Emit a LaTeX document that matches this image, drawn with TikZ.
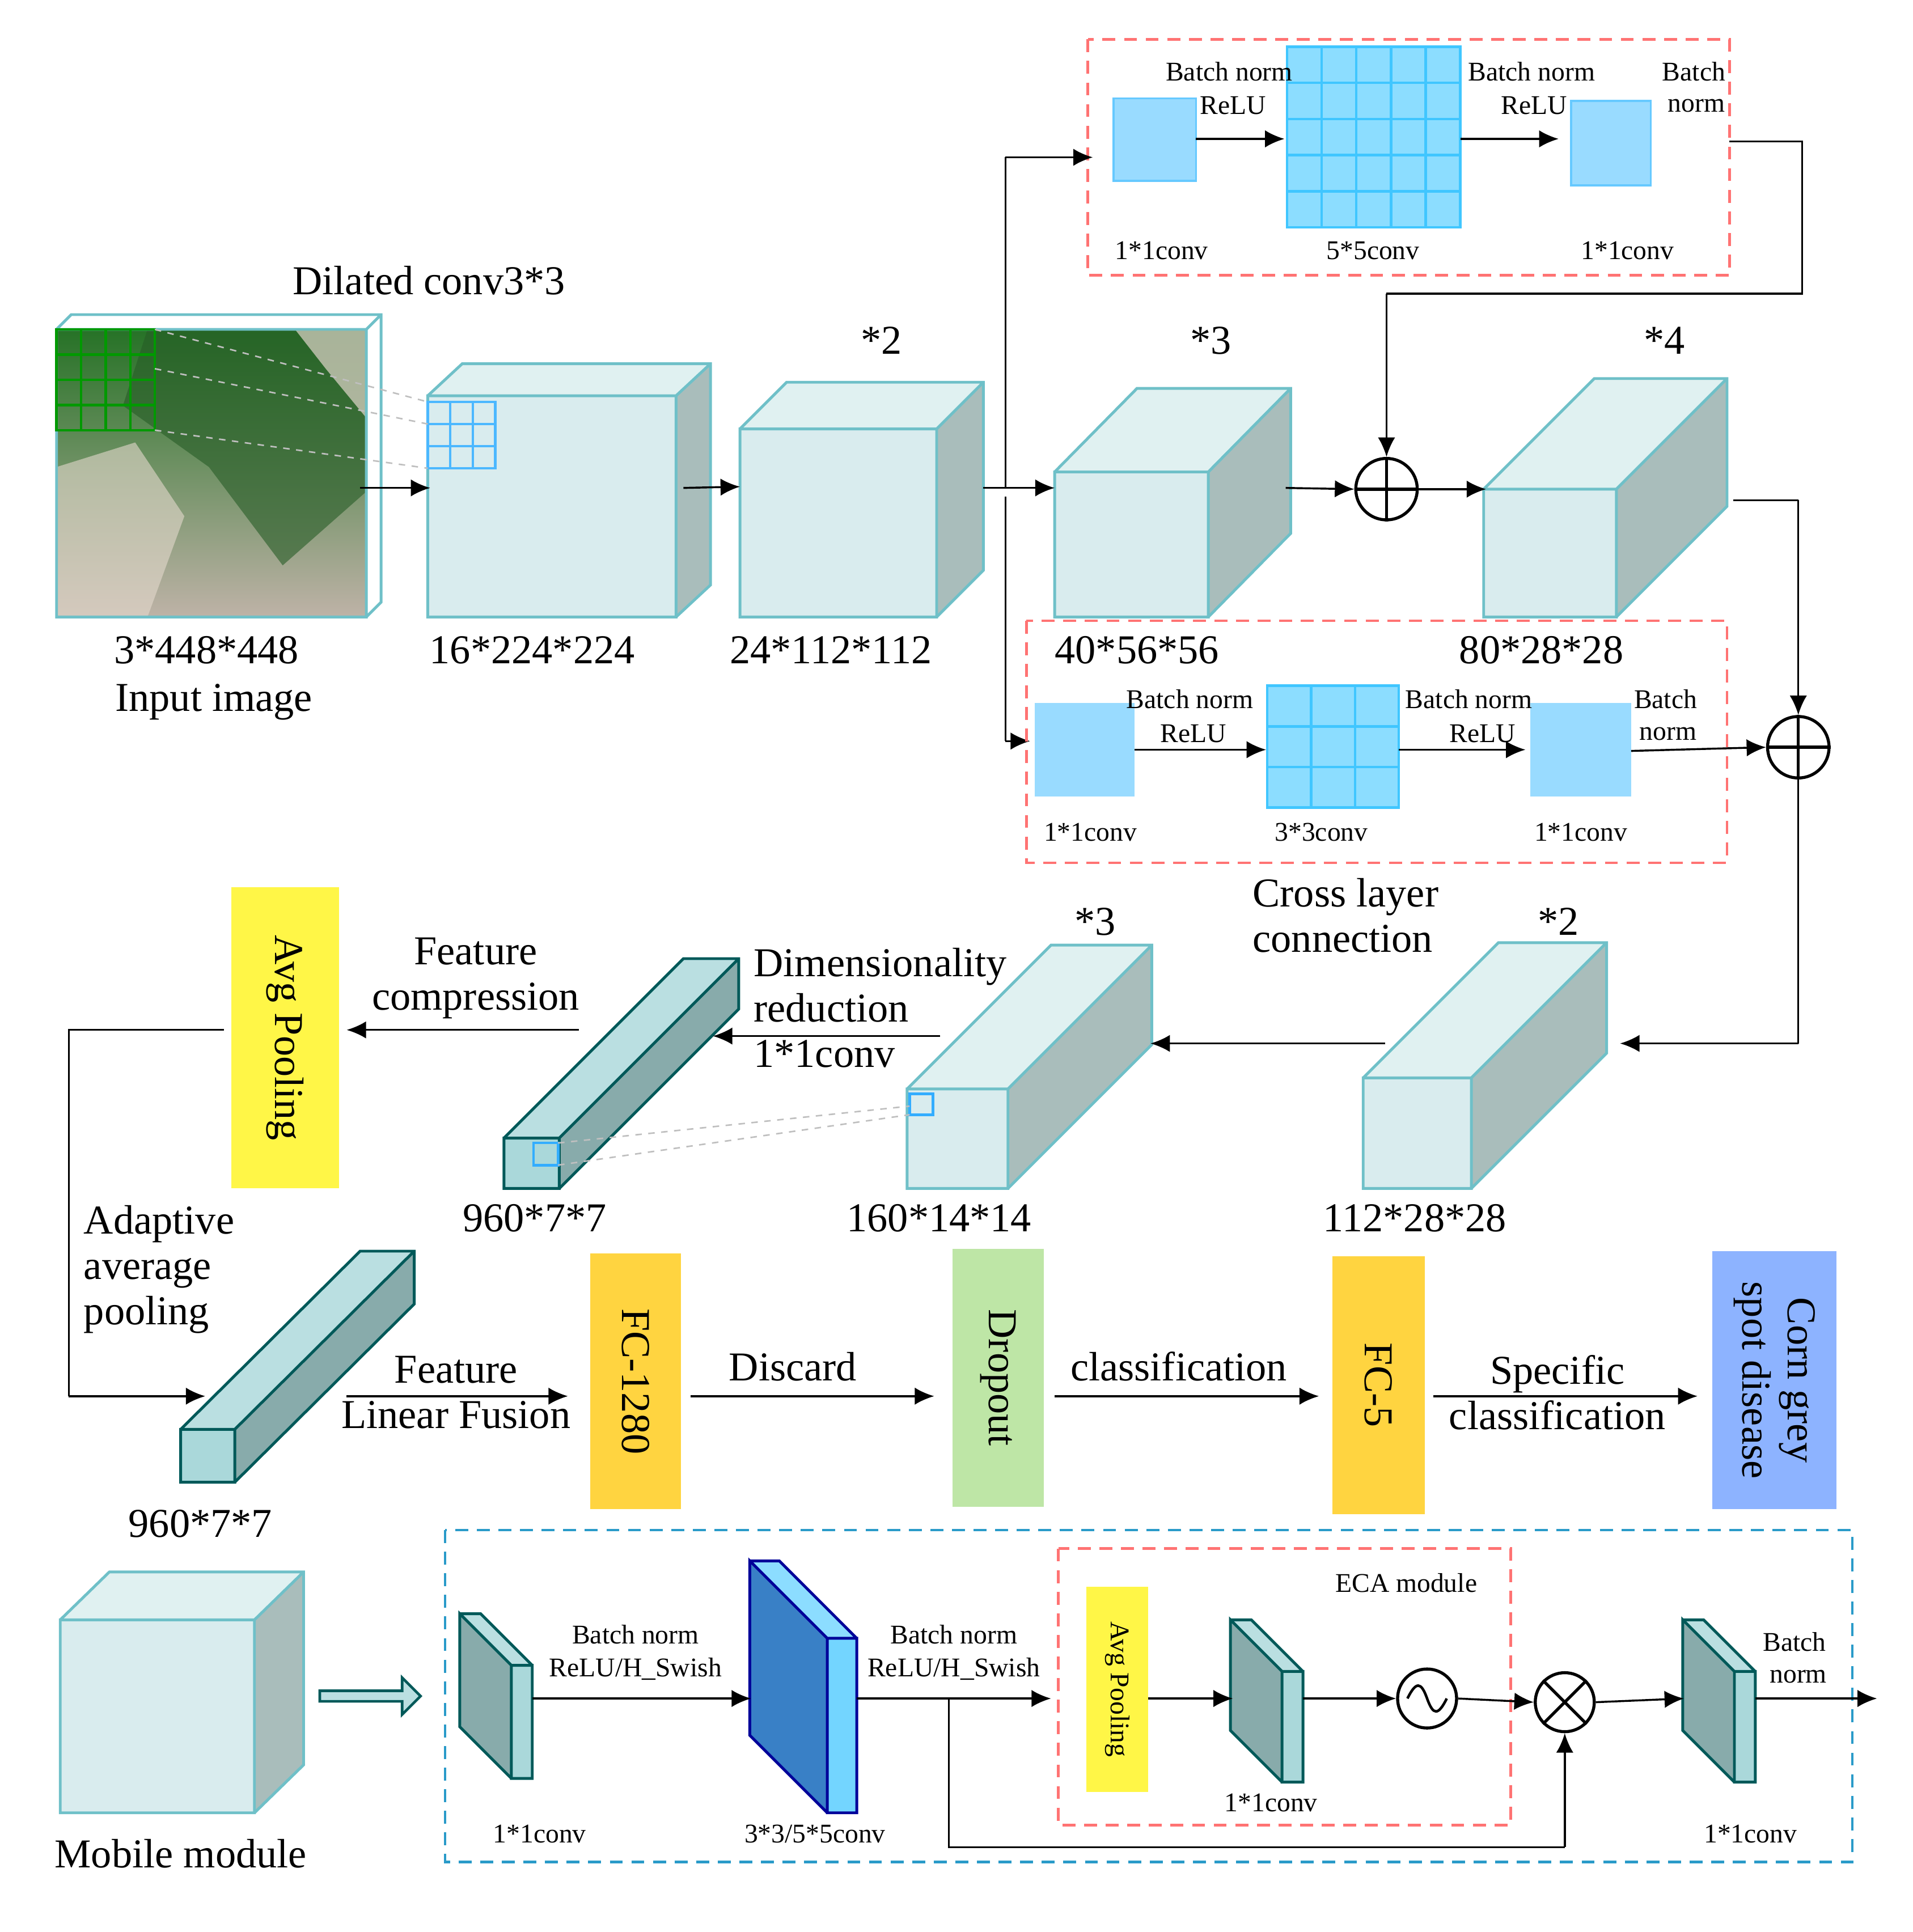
\documentclass[tikz,border=0pt]{standalone}
\usepackage{fontspec}
\setmainfont{Liberation Serif}
\usetikzlibrary{arrows.meta,shapes.arrows}
\definecolor{tl}{HTML}{6FC0C8}
\definecolor{afr}{HTML}{D9ECEE}
\definecolor{atp}{HTML}{E0F1F1}
\definecolor{asd}{HTML}{A9BDBB}
\definecolor{bfr}{HTML}{AAD8DA}
\definecolor{btp}{HTML}{BADFE1}
\definecolor{bsd}{HTML}{88ABAB}
\tikzset{
 afront/.style={fill=afr}, atop/.style={fill=atp}, aside/.style={fill=asd}, aline/.style={draw=tl,line width=1.3pt},
 bfront/.style={fill=bfr}, btop/.style={fill=btp}, bside/.style={fill=bsd}, bline/.style={draw=teal!70!black,line width=1.3pt},
 cfront/.style={fill=blue!30!cyan!55!white}, ctop/.style={fill=blue!30!cyan!45!white}, cside/.style={fill=blue!50!cyan!55!gray}, cline/.style={draw=blue!60!black,line width=1.3pt},
 big/.style={font=\fontsize{19}{21}\selectfont},
 sm/.style={font=\fontsize{12.5}{14}\selectfont},
 ar/.style={-{Latex[length=9pt,width=8pt]},line width=0.9pt},
 ln/.style={line width=0.9pt},
 sq/.style={fill=blue!35!cyan!40!white,draw=blue!35!cyan!60!white,line width=1pt},
 rbox/.style={draw=red!55!white,dashed,line width=1.2pt,dash pattern=on 6pt off 4pt},
 cbox/.style={draw=cyan!60!teal,dashed,line width=1.2pt,dash pattern=on 6pt off 4pt},
 gdash/.style={draw=gray!50,dashed,line width=0.7pt},
}
\newcommand{\cubo}[7]{%
 \fill[#7front] (#1,#2) rectangle ++(#3,#4);
 \fill[#7top] (#1,#2) -- ++(#5,-#6) -- ++(#3,0) -- ++(-#5,#6) -- cycle;
 \fill[#7side] (#1+#3,#2) -- ++(#5,-#6) -- ++(0,#4) -- ++(-#5,#6) -- cycle;
 \draw[#7line] (#1,#2) rectangle ++(#3,#4) (#1,#2) -- ++(#5,-#6) -- ++(#3,0) -- ++(0,#4) -- ++(-#5,#6) (#1+#3,#2) -- ++(#5,-#6);}
\newcommand{\slab}[6]{%
 \fill[#6front] (#1,#2) rectangle ++(#3,#4);
 \fill[#6side] (#1,#2) -- ++(-#5,-#5) -- ++(0,#4) -- ++(#5,#5) -- cycle;
 \fill[#6top] (#1,#2) -- ++(-#5,-#5) -- ++(#3,0) -- ++(#5,#5) -- cycle;
 \draw[#6line] (#1,#2) rectangle ++(#3,#4) (#1,#2) -- ++(-#5,-#5) -- ++(0,#4) -- ++(#5,#5) (#1,#2)++(-#5,-#5) -- ++(#3,0) -- ++(#5,#5);}
\newcommand{\grid}[8]{% x y w h nx ny linestyle fill
 \fill[#8] (#1,#2) rectangle ++(#3,#4);
 \foreach \i in {1,...,#5} {\draw[#7] (#1+#3*\i/#5-#3/#5,#2) -- ++(0,#4);}
 \foreach \j in {1,...,#6} {\draw[#7] (#1,#2+#4*\j/#6-#4/#6) -- ++(#3,0);}
 \draw[#7] (#1,#2) rectangle ++(#3,#4);}
\begin{document}
\begin{tikzpicture}[x=0.02cm,y=-0.02cm]
\useasboundingbox (0,0) rectangle (1556,1572);
% input image
\shade[top color=green!35!black!85!white, bottom color=brown!30!gray!60!white] (46,268) rectangle (298,502);
\fill[green!30!black!70!gray,opacity=0.6] (120,268) -- (298,268) -- (298,400) -- (230,460) -- (170,380) -- (100,330) -- cycle;
\fill[brown!20!white!85!gray,opacity=0.7] (240,268) -- (298,268) -- (298,340) -- (265,300) -- cycle;
\fill[gray!40!brown!30!white,opacity=0.6] (46,380) -- (110,360) -- (150,420) -- (120,502) -- (46,502) -- cycle;
\draw[tl,line width=1.3pt] (46,268) rectangle (298,502) (46,268) -- (58,256) -- (310,256) -- (310,490) -- (298,502) (298,268) -- (310,256);
\grid{46}{268}{80}{82}{4}{4}{draw=green!60!black,line width=1.2pt}{fill=none}
\node[big] (dil) at (349,228) {Dilated conv3*3};
\node[big] (l1) at (168,529) {3*448*448};
\node[big] (l1b) at (174,571) {Input image};
\cubo{348}{322}{202}{180}{28}{26}{a}
\grid{348}{327}{55}{54}{3}{3}{draw=blue!40!cyan!70!white,line width=1.2pt}{fill=none}
\draw[gdash] (126,268) -- (348,327) (126,350) -- (348,381) (126,300) -- (348,345);
\cubo{602}{349}{160}{153}{38}{38}{a}
\cubo{858}{384}{125}{118}{67}{68}{a}
\cubo{1207}{398}{108}{104}{90}{90}{a}
\node[big] at (433,529) {16*224*224};
\node[big] at (676,529) {24*112*112};
\node[big] at (717,277) {*2};
\node[big] at (985,277) {*3};
\node[big] at (1354,277) {*4};
\node[big] at (925,529) {40*56*56};
\node[big] at (1254,529) {80*28*28};
% top branch
\draw[rbox] (885,32) rectangle (1407,224);
\node[sq,minimum width=67*0.02cm,minimum height=67*0.02cm,inner sep=0] (t1) at (939.5,113.5) {};
\grid{1047}{38}{141}{147}{5}{5}{draw=blue!30!cyan!75!white,line width=1.2pt}{fill=blue!30!cyan!45!white}
\node[sq,minimum width=65*0.02cm,minimum height=69*0.02cm,inner sep=0] (t3) at (1310.5,116.5) {};
\draw[ar] (973,113) -- (1045,113);
\draw[ar] (1188,113) -- (1268,113);
\node[sm] at (1000,58) {Batch norm}; \node[sm] at (1003,86) {ReLU};
\node[sm] at (1246,58) {Batch norm}; \node[sm] at (1248,86) {ReLU};
\node[sm] at (1378,58) {Batch}; \node[sm] at (1380,86) {norm};
\node[sm] at (945,204) {1*1conv}; \node[sm] at (1117,204) {5*5conv}; \node[sm] at (1324,204) {1*1conv};
% main connections
\draw[ar] (293,397) -- (350,397);
\draw[ar] (556,397) -- (602,396);
\draw[ar] (800,397) -- (858,397);
\draw[ln] (818,397) -- (818,128); \draw[ar] (818,128) -- (889,128);
\draw[ln] (818,404) -- (818,603); \draw[ar] (818,603) -- (838,603);
\node[circle,draw,line width=1.4pt,minimum size=50*0.02cm,inner sep=0] (o1) at (1128,398) {};
\draw[line width=1.4pt] (o1.north) -- (o1.south) (o1.west) -- (o1.east);
\draw[ar] (1046,397) -- (o1.west);
\draw[ar] (o1.east) -- (1209,398);
\draw[ln] (1407,115) -- (1466,115) -- (1466,239) -- (1128,239); \draw[ar] (1128,239) -- (o1.north);
\node[circle,draw,line width=1.4pt,minimum size=50*0.02cm,inner sep=0] (o2) at (1463,608) {};
\draw[line width=1.4pt] (o2.north) -- (o2.south) (o2.west) -- (o2.east);
\draw[ln] (1410,407) -- (1463,407); \draw[ar] (1463,407) -- (o2.north);
% bottom branch
\draw[rbox] (835,505) rectangle (1405,702);
\node[sq,draw=none,minimum width=81*0.02cm,minimum height=76*0.02cm,inner sep=0] (b1) at (882.5,610) {};
\grid{1031}{558}{107}{99}{3}{3}{draw=blue!30!cyan!75!white,line width=1.2pt}{fill=blue!30!cyan!45!white}
\node[sq,draw=none,minimum width=82*0.02cm,minimum height=76*0.02cm,inner sep=0] (b3) at (1286,610) {};
\draw[ar] (923,610) -- (1030,610);
\draw[ar] (1138,610) -- (1241,610);
\draw[ar] (1327,611) -- (o2.west);
\node[sm] at (968,569) {Batch norm}; \node[sm] at (971,597) {ReLU};
\node[sm] at (1195,569) {Batch norm}; \node[sm] at (1206,597) {ReLU};
\node[sm] at (1355,569) {Batch}; \node[sm] at (1357,597) {norm};
\node[sm] at (887,677) {1*1conv}; \node[sm] at (1075,677) {3*3conv}; \node[sm] at (1286,677) {1*1conv};
\node[big,align=left,anchor=west] at (1013,745) {Cross layer\\connection};
\draw[ln] (o2.south) -- (1463,849); \draw[ar] (1463,849) -- (1318,849);
% middle row
\cubo{1109}{877}{88}{90}{110}{110}{a}
\cubo{738}{886}{82}{81}{117}{117}{a}
\cubo{410}{926}{45}{41}{146}{146}{b}
\draw[blue!40!cyan!80!white,line width=1.2pt] (740,890) rectangle (759,907) (434,930) rectangle (454,948);
\draw[gdash] (454,930) -- (740,900) (454,948) -- (740,907);
\draw[ar] (1127,849) -- (936,849);
\node[big] at (1268,750) {*2}; \node[big] at (891,750) {*3};
\draw[ar] (765,843) -- (580,843);
\node[big,align=left,anchor=west] at (607,820) {Dimensionality\\reduction\\1*1conv};
\node[fill=yellow!90!white!80!white,minimum width=88*0.02cm,minimum height=245*0.02cm] (avg) at (232,844.5) {};
\node[big,rotate=-90] at (avg.center) {Avg Pooling};
\node[big,align=center] at (387,796) {Feature\\compression};
\draw[ar] (471,838) -- (282,838);
\draw[ln] (182,838) -- (56,838) -- (56,1136); \draw[ar] (56,1136) -- (167,1136);
\node[big,align=left,anchor=west] at (62,1033) {Adaptive\\average\\pooling};
\node[big] at (435,991) {960*7*7}; \node[big] at (764,991) {160*14*14}; \node[big] at (1151,991) {112*28*28};
% lower row
\cubo{147}{1163}{44}{43}{146}{145}{b}
\node[big] at (163,1240) {960*7*7};
\node[big,align=center] at (371,1133) {Feature\\Linear Fusion};
\draw[ar] (282,1136) -- (462,1136);
\node[fill=orange!45!yellow!75!white,minimum width=74*0.02cm,minimum height=208*0.02cm] (fc1) at (517,1124) {};
\node[big,rotate=-90] at (fc1.center) {FC-1280};
\node[big] at (645,1112) {Discard};
\draw[ar] (562,1136) -- (760,1136);
\node[fill=green!45!olive!35!white,minimum width=74*0.02cm,minimum height=210*0.02cm] (drop) at (812,1121) {};
\node[big,rotate=-90] at (drop.center) {Dropout};
\node[big] at (959,1112) {classification};
\draw[ar] (858,1136) -- (1073,1136);
\node[fill=orange!45!yellow!75!white,minimum width=75*0.02cm,minimum height=210*0.02cm] (fc5) at (1121.5,1127) {};
\node[big,rotate=-90] at (fc5.center) {FC-5};
\node[big,align=center] at (1267,1133) {Specific\\classification};
\draw[ar] (1166,1136) -- (1381,1136);
\node[fill=blue!35!white!85!cyan,minimum width=101*0.02cm,minimum height=210*0.02cm] (corn) at (1443.5,1123) {};
\node[big,rotate=-90,align=center] at (corn.center) {Corn grey\\spot disease};
% mobile module
\cubo{49}{1318}{158}{157}{40}{39}{a}
\node[big] at (147,1508) {Mobile module};
\node[single arrow,draw=teal!70!black,fill=btp,line width=1.2pt,minimum height=82*0.02cm,minimum width=30*0.02cm,single arrow head extend=4pt,inner sep=1pt] at (299,1380) {};
\draw[cbox] (362,1245) rectangle (1507,1515);
\slab{416}{1355}{17}{92}{42}{b}
\slab{673}{1333}{24}{142}{63}{c}
\draw[ar] (433,1382) -- (611,1382);
\node[sm] at (517,1330) {Batch norm}; \node[sm] at (517,1358) {ReLU/H\_Swish};
\draw[ar] (697,1382) -- (855,1382);
\node[sm] at (776,1330) {Batch norm}; \node[sm] at (776,1358) {ReLU/H\_Swish};
\draw[rbox] (861,1260) rectangle (1229,1485);
\node[sm] at (1144,1288) {ECA module};
\node[fill=yellow!90!white!80!white,minimum width=50*0.02cm,minimum height=167*0.02cm] (avg2) at (909,1374.5) {};
\node[sm,rotate=-90] at (avg2.center) {Avg Pooling};
\slab{1043}{1360}{17}{90}{42}{b}
\draw[ar] (934,1382) -- (1003,1382);
\node[circle,draw,line width=1.4pt,minimum size=48*0.02cm,inner sep=0] (sig) at (1161,1382) {};
\draw[line width=1.2pt] (1145,1382) .. controls (1152,1368) and (1156,1368) .. (1161,1382) .. controls (1166,1396) and (1170,1396) .. (1177,1382);
\draw[ar] (1060,1382) -- (sig.west);
\node[circle,draw,line width=1.4pt,minimum size=48*0.02cm,inner sep=0] (ot) at (1273,1385) {};
\draw[line width=1.4pt] (ot.north east) -- (ot.south west) (ot.north west) -- (ot.south east);
\draw[ar] (sig.east) -- (ot.west);
\slab{1411}{1360}{17}{90}{42}{b}
\draw[ar] (ot.east) -- (1370,1382);
\draw[ar] (1428,1382) -- (1527,1382);
\node[sm] at (1460,1336) {Batch}; \node[sm] at (1463,1364) {norm};
\draw[ln] (772,1382) -- (772,1503) -- (1273,1503); \draw[ar] (1273,1503) -- (ot.south);
\node[sm] at (439,1492) {1*1conv}; \node[sm] at (663,1492) {3*3/5*5conv};
\node[sm] at (1034,1467) {1*1conv}; \node[sm] at (1424,1492) {1*1conv};
\end{tikzpicture}
\end{document}
